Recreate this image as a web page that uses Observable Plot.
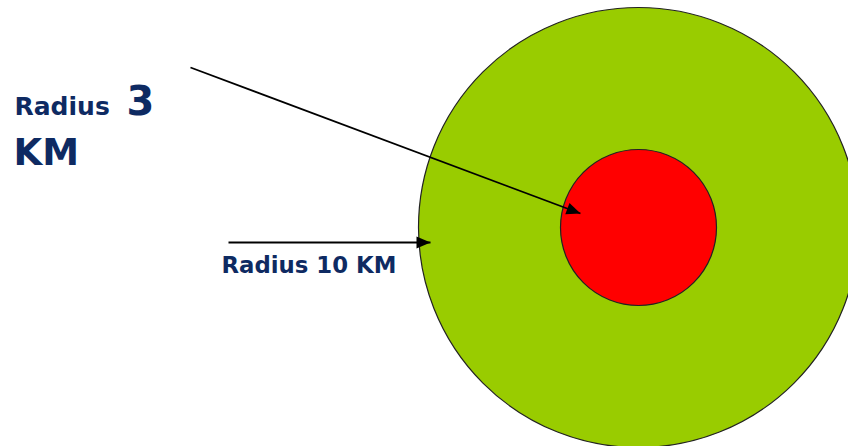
<!DOCTYPE html>
<html>
<head>
<meta charset="utf-8">
<script src="https://cdn.jsdelivr.net/npm/d3@7"></script>
<script src="https://cdn.jsdelivr.net/npm/@observablehq/plot@0.6"></script>
<style>
  html, body { margin: 0; padding: 0; background: #ffffff; overflow: hidden; }
  #chart svg { display: block; }
</style>
</head>
<body>
<div id="chart"></div>
<script>
// ---- data ----
const zoneNames = ["Outer zone", "Inner zone"];
const zoneRadiusKm = [10, 3];
const labelParts = ["Radius", "3", "KM", "Radius 10 KM"];

// ---- layout / styles (kept separate from data) ----
const W = 848, H = 446;
const center = {x: 638, y: 227};
const zoneFill = ["#99cc00", "#ff0000"];
const navy = "#0e2a62";
const labelPos = [
  {x: 14, y: 114, size: 25},
  {x: 126, y: 114, size: 40},
  {x: 13, y: 164, size: 37},
  {x: 221, y: 272, size: 22.8}
];
const arrowPos = [
  {x1: 190, y1: 67, x2: 580, y2: 213},
  {x1: 228, y1: 242, x2: 430, y2: 242}
];

const zones = zoneNames.map((name, i) => ({name, km: zoneRadiusKm[i], fill: zoneFill[i]}));
const labels = labelParts.map((text, i) => ({text, ...labelPos[i]}));

function filledArrow(color, context) {
  const m = d3.create("svg:marker")
    .attr("viewBox", "-15 -7 15 14")
    .attr("markerWidth", 15)
    .attr("markerHeight", 14)
    .attr("markerUnits", "userSpaceOnUse")
    .attr("orient", "auto")
    .attr("fill", color)
    .attr("stroke", "none");
  m.append("path").attr("d", "M-14,-6L0,0L-14,6Z");
  return m.node();
}

const plot = Plot.plot({
  width: W,
  height: H,
  margin: 0,
  x: {domain: [0, W], range: [0, W], axis: null},
  y: {domain: [0, H], range: [0, H], axis: null},
  r: {type: "linear", domain: [3, 10], range: [78, 220]},
  style: {background: "#ffffff", overflow: "hidden"},
  marks: [
    Plot.dot(zones, {
      x: () => center.x,
      y: () => center.y,
      r: "km",
      fill: d => d.fill,
      stroke: "#222222",
      strokeWidth: 1.2
    }),
    Plot.link(arrowPos, {
      x1: "x1", y1: "y1", x2: "x2", y2: "y2",
      stroke: "#000000",
      strokeWidth: 1.8,
      markerEnd: filledArrow
    }),
    ...labels.map(l => Plot.text([l], {
      x: "x", y: "y", text: "text",
      textAnchor: "start",
      lineAnchor: "bottom",
      fontSize: l.size,
      fontWeight: "bold",
      fontFamily: "DejaVu Sans, Verdana, sans-serif",
      fill: navy
    }))
  ]
});
document.getElementById("chart").appendChild(plot);
</script>
</body>
</html>
